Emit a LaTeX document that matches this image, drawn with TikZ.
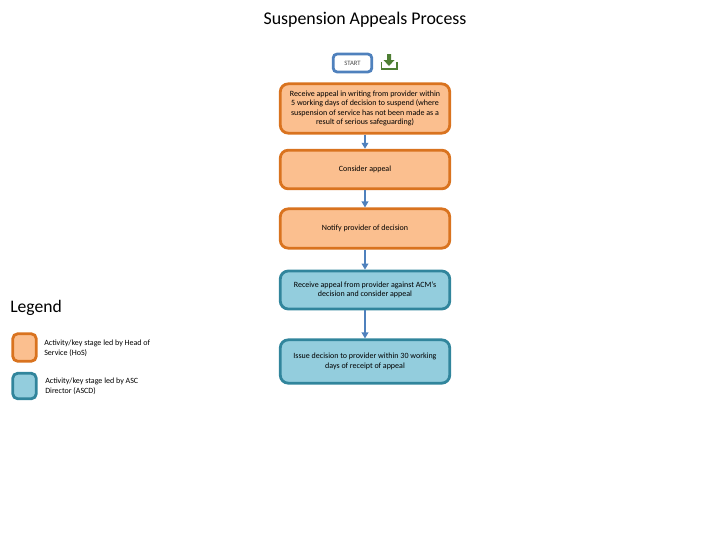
\documentclass[tikz,border=0pt]{standalone}
\usepackage{fontspec}
\setmainfont{Carlito}
\usetikzlibrary{arrows.meta}
\definecolor{orfill}{HTML}{FBBF8F}
\definecolor{orline}{HTML}{D9731F}
\definecolor{blfill}{HTML}{93CDDD}
\definecolor{blline}{HTML}{31859C}
\definecolor{stline}{HTML}{4F81BD}
\definecolor{icon}{HTML}{4E7F34}
\tikzset{
 x=0.75pt,y=-0.75pt,
 basebox/.style={draw,line width=2.1pt,rounded corners=6pt,align=center,font=\fontsize{6}{7.1}\selectfont,inner sep=0pt,minimum width=129pt-1.9pt},
 orbox/.style={basebox,fill=orfill,draw=orline},
 blbox/.style={basebox,fill=blfill,draw=blline},
 startbox/.style={draw=stline,fill=white,line width=2.1pt,rounded corners=3pt,font=\fontsize{5}{6}\selectfont,text=black!70,inner sep=0pt,minimum width=29pt,minimum height=13.5pt},
 flow/.style={draw=stline,line width=1.3pt,-{Triangle[length=4.5pt,width=5pt]},shorten >=0pt},
 legtext/.style={anchor=west,align=left,font=\fontsize{6}{7.6}\selectfont,inner sep=0pt},
 lorbox/.style={draw=orline,fill=orfill,line width=2.1pt,rounded corners=3.5pt,minimum width=17.5pt,minimum height=20.5pt,inner sep=0pt},
 lblbox/.style={draw=blline,fill=blfill,line width=2.1pt,rounded corners=3.5pt,minimum width=17.5pt,minimum height=19pt,inner sep=0pt},
}
\begin{document}
\begin{tikzpicture}
\useasboundingbox (0,0) rectangle (720,540);
\node[font=\fontsize{13.4}{15}\selectfont] (title) at (365,19.5) {Suspension Appeals Process};
\node[startbox] (start) at (352.5,63) {START};
\fill[icon] (387,54) rectangle (391,60) -- (394.5,60) -- (389,66) -- (383.5,60) -- (387,60) -- cycle;
\draw[icon,line width=1.1pt] (381.5,62) -- (381.5,69) -- (397,69) -- (397,62);
\node[orbox,minimum height=37pt] (b1) at (365,108.5) {Receive appeal in writing from provider within\\5 working days of decision to suspend (where\\suspension of service has not been made as a\\result of serious safeguarding)};
\node[orbox,minimum height=29pt] (b2) at (365,169.5) {Consider appeal};
\node[orbox,minimum height=29.5pt] (b3) at (365,228.5) {Notify provider of decision};
\node[blbox,minimum height=28.5pt] (b4) at (365,290) {Receive appeal from provider against ACM's\\decision and consider appeal};
\node[blbox,minimum height=32.5pt] (b5) at (365,361.5) {Issue decision to provider within 30 working\\days of receipt of appeal};
\draw[flow] (b1) -- (b2);
\draw[flow] (b2) -- (b3);
\draw[flow] (b3) -- (b4);
\draw[flow] (b4) -- (b5);
\node[anchor=west,inner sep=0pt,font=\fontsize{13.2}{15}\selectfont] (legend) at (10,308) {Legend};
\node[lorbox] (l1) at (24.5,347.5) {};
\node[lblbox] (l2) at (24.5,386) {};
\node[legtext] (t1) at (44,348) {Activity/key stage led by Head of\\Service (HoS)};
\node[legtext] (t2) at (45,386.5) {Activity/key stage led by ASC\\Director (ASCD)};
\end{tikzpicture}
\end{document}
